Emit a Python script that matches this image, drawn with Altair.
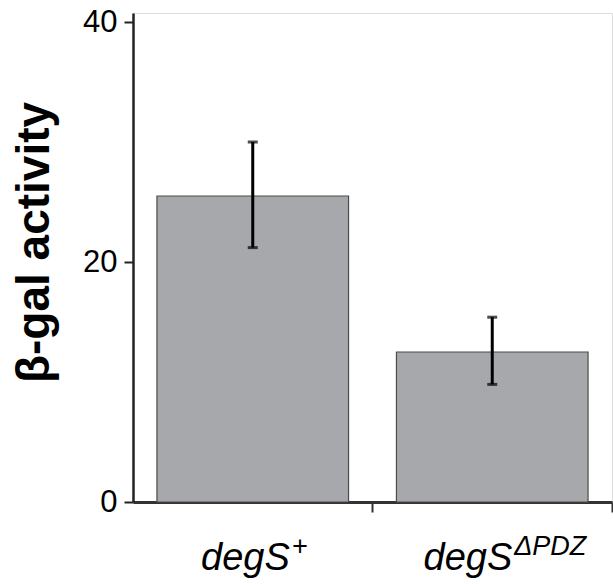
import altair as alt
import pandas as pd

categories = ["degS+", "degSΔPDZ"]
values = [25.5, 12.5]
err_low = [21.2, 9.8]
err_high = [30.0, 15.4]
label_base = ["degS", "degS"]
label_sup = ["+", "ΔPDZ"]
y_ticks = [0, 20, 40]

df = pd.DataFrame({
    "cat": categories,
    "val": values,
    "lo": err_low,
    "hi": err_high,
    "base": label_base,
    "sup": label_sup,
})

FONT = "Liberation Sans"
H = 489

xscale = alt.Scale(domain=categories, paddingInner=0.2, paddingOuter=0.1)
yscale = alt.Scale(domain=[0, 40.75], nice=False, zero=True)

bars = alt.Chart(df).mark_bar(
    color="#A7A8AB", stroke="#4a4a4a", strokeWidth=1.2
).encode(
    x=alt.X("cat:N", scale=xscale, sort=categories,
            axis=alt.Axis(labels=False, title=None, bandPosition=1.125,
                          tickSize=10, tickWidth=2, tickColor="#333",
                          domainWidth=3, domainColor="#333", grid=False)),
    y=alt.Y("val:Q", scale=yscale,
            axis=alt.Axis(values=y_ticks, title="β-gal activity",
                          labelFont=FONT, labelFontSize=31, labelColor="#000",
                          labelPadding=7, tickSize=9, tickWidth=2,
                          tickColor="#222", domainWidth=2.5, domainColor="#222",
                          grid=False, titleFont=FONT, titleFontSize=46,
                          titleFontWeight="bold", titleColor="#000",
                          titleX=-75, titleY=229, titleBaseline="bottom",
                          titleAngle=270)),
)

rules = alt.Chart(df).mark_rule(color="#000", strokeWidth=3).encode(
    x=alt.X("cat:N", scale=xscale, sort=categories),
    y=alt.Y("lo:Q", scale=yscale),
    y2="hi:Q",
)
caps_lo = alt.Chart(df).mark_tick(color="#000", thickness=3, size=10).encode(
    x=alt.X("cat:N", scale=xscale, sort=categories),
    y=alt.Y("lo:Q", scale=yscale),
)
caps_hi = alt.Chart(df).mark_tick(color="#000", thickness=3, size=10).encode(
    x=alt.X("cat:N", scale=xscale, sort=categories),
    y=alt.Y("hi:Q", scale=yscale),
)

layers = [bars, rules, caps_lo, caps_hi]
dxs = [37, 20]
for cat, dx in zip(categories, dxs):
    sub = df[df["cat"] == cat]
    layers.append(
        alt.Chart(sub).mark_text(
            font=FONT, fontSize=38, fontStyle="italic", align="right",
            baseline="alphabetic", dx=dx, color="#000"
        ).encode(x=alt.X("cat:N", scale=xscale, sort=categories),
                 y=alt.value(H + 68), text="base:N")
    )
    layers.append(
        alt.Chart(sub).mark_text(
            font=FONT, fontSize=27, fontStyle="italic", align="left",
            baseline="alphabetic", dx=dx + 2, color="#000"
        ).encode(x=alt.X("cat:N", scale=xscale, sort=categories),
                 y=alt.value(H + 53), text="sup:N")
    )

chart = alt.layer(*layers).properties(
    width=479, height=H,
    padding={"left": 133, "top": 13, "right": 1, "bottom": 82},
    autosize="none",
).configure_view(stroke=None).configure(background="white")

chart.save("out.html", embed_options={"renderer": "svg", "actions": False})
